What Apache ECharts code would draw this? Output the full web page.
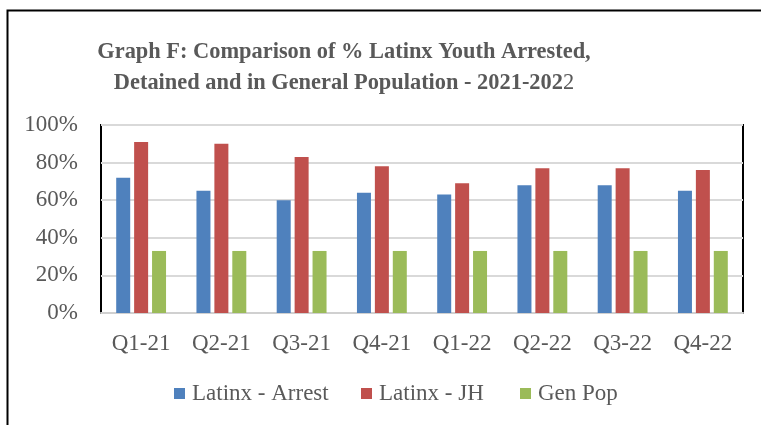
<!DOCTYPE html>
<html>
<head>
<meta charset="utf-8">
<script src="https://cdn.jsdelivr.net/npm/echarts@6/dist/echarts.min.js"></script>
<style>
  html, body { margin: 0; padding: 0; background: #fff; }
  #chart { width: 761px; height: 425px; }
</style>
</head>
<body>
<div id="chart"></div>
<script>
var quarters = ['Q1-21', 'Q2-21', 'Q3-21', 'Q4-21', 'Q1-22', 'Q2-22', 'Q3-22', 'Q4-22'];
var latinxArrest = [72, 65, 60, 64, 63, 68, 68, 65];
var latinxJH = [91, 90, 83, 78, 69, 77, 77, 76];
var genPop = [33, 33, 33, 33, 33, 33, 33, 33];
var seriesNames = ['Latinx - Arrest', 'Latinx - JH', 'Gen Pop'];
var seriesColors = ['#4F81BD', '#C0504D', '#9BBB59'];

var chart = echarts.init(document.getElementById('chart'));

var fontFam = '"Liberation Serif", "Times New Roman", serif';

// legend drawn by hand so the swatches/labels sit where the original has them
var legendX = [174, 361, 520];
var legendItems = [];
seriesNames.forEach(function (n, i) {
  legendItems.push({
    type: 'rect',
    shape: { x: legendX[i], y: 388, width: 11, height: 11 },
    style: { fill: seriesColors[i] },
    silent: true
  });
  legendItems.push({
    type: 'text',
    x: legendX[i] + 18,
    y: 394,
    style: {
      text: n,
      fontFamily: fontFam,
      fontSize: 23,
      fill: '#595959',
      verticalAlign: 'middle'
    },
    silent: true
  });
});

function makeBar(name, data, color) {
  return {
    name: name,
    type: 'bar',
    data: data,
    barWidth: 14,
    barGap: '28%',
    itemStyle: {
      color: color
    }
  };
}

var option = {
  animation: false,
  color: seriesColors,
  textStyle: { fontFamily: fontFam },
  title: {
    text: '{b|Graph F: Comparison of % Latinx Youth Arrested,}\n{b|Detained and in General Population - 2021-202}{n|2}',
    left: 339,
    top: 32,
    textAlign: 'center',
    textStyle: {
      rich: {
        b: {
          fontFamily: fontFam,
          fontWeight: 'bold',
          fontSize: 22.4,
          color: '#595959',
          lineHeight: 31
        },
        n: {
          fontFamily: fontFam,
          fontWeight: 'normal',
          fontSize: 22.4,
          color: '#595959',
          lineHeight: 31
        }
      }
    }
  },
  grid: {
    left: 101,
    right: 18,
    top: 125,
    bottom: 112,
    show: true,
    borderColor: '#000',
    borderWidth: 2,
    backgroundColor: 'transparent'
  },
  xAxis: {
    type: 'category',
    data: quarters,
    axisTick: { show: false },
    axisLine: { show: true, lineStyle: { color: '#d0d0d0', width: 2 } },
    axisLabel: {
      fontFamily: fontFam,
      fontSize: 23,
      color: '#595959',
      margin: 19
    }
  },
  yAxis: {
    type: 'value',
    min: 0,
    max: 100,
    interval: 20,
    axisLine: { show: false },
    axisTick: { show: false },
    splitLine: { lineStyle: { color: '#d9d9d9', width: 2 } },
    axisLabel: {
      formatter: '{value}%',
      fontFamily: fontFam,
      fontSize: 23,
      color: '#595959',
      margin: 23
    }
  },
  graphic: [
    {
      type: 'rect',
      shape: { x: 7.5, y: 10.5, width: 900, height: 600 },
      style: { fill: 'none', stroke: '#000', lineWidth: 2 },
      silent: true
    }
  ].concat(legendItems),
  series: [
    makeBar(seriesNames[0], latinxArrest, seriesColors[0]),
    makeBar(seriesNames[1], latinxJH, seriesColors[1]),
    makeBar(seriesNames[2], genPop, seriesColors[2])
  ]
};

chart.setOption(option);
</script>
</body>
</html>
